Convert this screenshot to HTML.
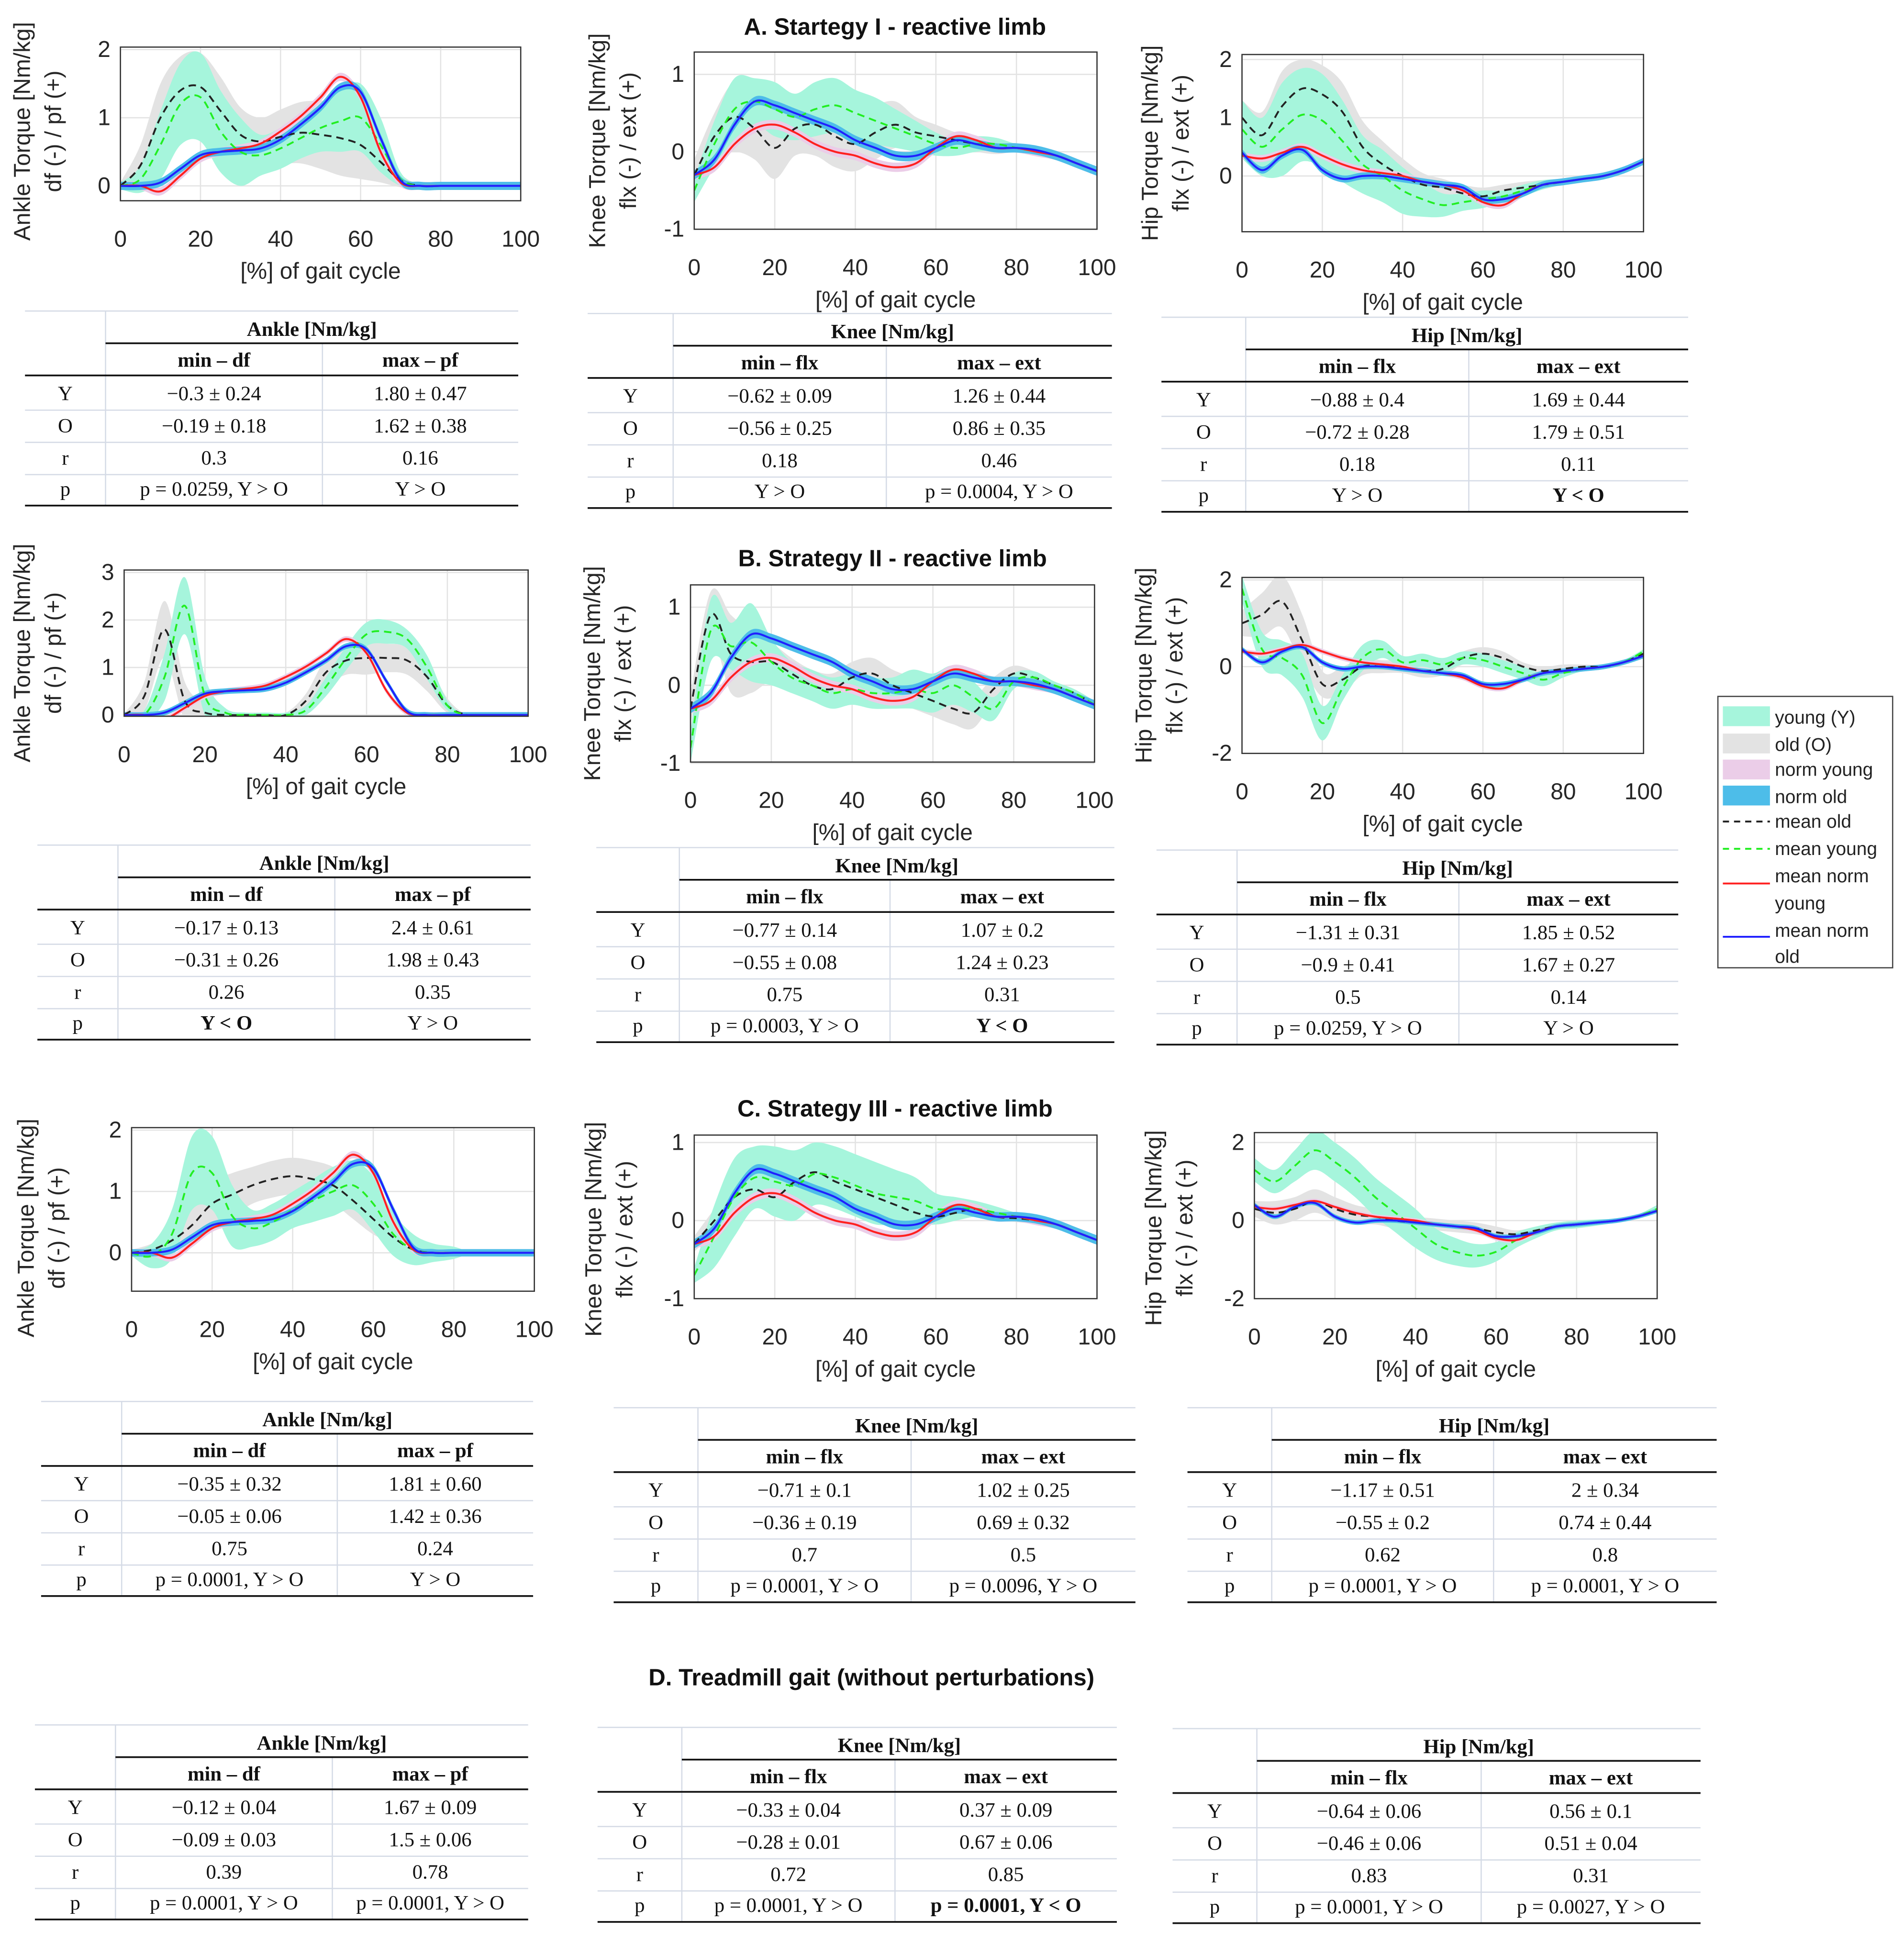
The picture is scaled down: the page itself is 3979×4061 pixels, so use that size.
<!DOCTYPE html>
<html><head><meta charset="utf-8"><style>
html,body{margin:0;padding:0;background:#fff;}
svg{display:block;}
.ax{font-family:"Liberation Sans",sans-serif;font-size:18.5px;fill:#262626;}
.tb{font-family:"Liberation Serif",serif;font-size:16.5px;fill:#111;}
.tt{font-family:"Liberation Sans",sans-serif;font-size:19px;font-weight:bold;fill:#111;}
</style></head><body>
<svg id="fig" xmlns="http://www.w3.org/2000/svg" width="3979" height="4061" viewBox="0 0 1536 1568">
<rect x="0" y="0" width="1536" height="1568" fill="#fff"/>
<text class="tt" x="722" y="28" text-anchor="middle">A. Startegy I - reactive limb</text>
<text class="tt" x="720" y="457" text-anchor="middle">B. Strategy II - reactive limb</text>
<text class="tt" x="722" y="901" text-anchor="middle">C. Strategy III - reactive limb</text>
<text class="tt" x="703" y="1360" text-anchor="middle">D. Treadmill gait (without perturbations)</text>
<g id="plots"></g>
<g id="tables"></g>
<g font-family="Liberation Sans, sans-serif" font-size="15" fill="#222">
<rect x="1386" y="562" width="141" height="219" fill="#fff" stroke="#444" stroke-width="1"/>
<rect x="1390" y="570" width="38" height="16" fill="#a6f5dc"/><text x="1432" y="584">young (Y)</text>
<rect x="1390" y="592" width="38" height="16" fill="#e3e3e3"/><text x="1432" y="606">old (O)</text>
<rect x="1390" y="613" width="38" height="16" fill="#ebcde8"/><text x="1432" y="626">norm young</text>
<rect x="1390" y="634" width="38" height="16" fill="#4dbde9"/><text x="1432" y="648">norm old</text>
<line x1="1390" y1="663" x2="1428" y2="663" stroke="#222" stroke-width="1.5" stroke-dasharray="5,4"/><text x="1432" y="668">mean old</text>
<line x1="1390" y1="685" x2="1428" y2="685" stroke="#22ee22" stroke-width="1.5" stroke-dasharray="5,4"/><text x="1432" y="690">mean young</text>
<line x1="1390" y1="713" x2="1428" y2="713" stroke="#ff2020" stroke-width="1.5"/><text x="1432" y="712">mean norm</text><text x="1432" y="734">young</text>
<line x1="1390" y1="756" x2="1428" y2="756" stroke="#2020ff" stroke-width="1.5"/><text x="1432" y="756">mean norm</text><text x="1432" y="777">old</text>
</g>
</svg>
<script>
const NS="http://www.w3.org/2000/svg";
const xCats=[0,5,10,15,20,25,30,35,40,45,50,55,60,65,70,75,80,85,90,95,100];
const xTicks=[0,20,40,60,80,100];
// norm curves (same across strategies)
const ankleNormYoung=[0,0,-0.08,0.15,0.4,0.5,0.55,0.62,0.8,1.02,1.3,1.6,1.3,0.5,0.05,0,0,0,0,0,0];
const ankleNormOld=[0,0,0.05,0.25,0.45,0.5,0.52,0.55,0.68,0.9,1.15,1.45,1.38,0.7,0.08,0,0,0,0,0,0];
const kneeNormYoung=[-0.3,-0.2,0.1,0.3,0.35,0.25,0.1,0,-0.05,-0.15,-0.2,-0.15,0.05,0.2,0.15,0.05,0.05,0,-0.05,-0.15,-0.25];
const kneeNormOld=[-0.3,-0.1,0.35,0.65,0.6,0.5,0.4,0.3,0.15,0.05,-0.05,-0.05,0.05,0.15,0.1,0.05,0.05,0.02,-0.05,-0.15,-0.25];
const hipNormYoung=[0.35,0.3,0.4,0.5,0.35,0.2,0.1,0.05,0,-0.1,-0.15,-0.25,-0.45,-0.5,-0.3,-0.15,-0.1,-0.05,0,0.1,0.25];
const hipNormOld=[0.4,0.1,0.35,0.45,0.1,-0.05,0,0,-0.05,-0.1,-0.15,-0.2,-0.4,-0.4,-0.3,-0.15,-0.1,-0.05,0,0.1,0.25];
// Ankle
const ankleA_old=[0,0.3,1.0,1.4,1.45,1.1,0.75,0.65,0.72,0.78,0.75,0.7,0.6,0.35,0.08,0,0,0,0,0,0];
const ankleA_young=[0,0.1,0.6,1.2,1.3,0.8,0.5,0.45,0.55,0.7,0.85,0.95,1.0,0.6,0.1,0,0,0,0,0,0];
const ankleA_youngSd=[0.05,0.2,0.5,0.6,0.65,0.6,0.5,0.3,0.3,0.3,0.35,0.45,0.5,0.4,0.1,0.02,0,0,0,0,0];
const ankleA_oldSd=[0.05,0.3,0.5,0.5,0.5,0.5,0.4,0.35,0.4,0.45,0.5,0.55,0.5,0.3,0.1,0.02,0,0,0,0,0];
const ankleB_old=[0,0.4,1.8,0.3,0.05,0,0,0,0,0.3,0.9,1.15,1.2,1.2,1.15,0.8,0.2,0,0,0,0];
const ankleB_young=[0,0,0.8,2.3,0.4,0.05,0,0,0,0.1,0.6,1.2,1.7,1.75,1.6,1.0,0.2,0,0,0,0];
const ankleB_youngSd=[0.02,0.1,0.5,0.6,0.4,0.1,0.05,0.05,0.05,0.1,0.2,0.25,0.25,0.25,0.2,0.25,0.1,0,0,0,0];
const ankleB_oldSd=[0.02,0.3,0.6,0.4,0.2,0.05,0.05,0.05,0.05,0.15,0.3,0.3,0.35,0.3,0.3,0.3,0.15,0,0,0,0];
const ankleC_old=[0,0.05,0.2,0.45,0.8,0.95,1.1,1.2,1.25,1.2,1.1,0.85,0.55,0.25,0.05,0,0,0,0,0,0];
const ankleC_young=[0,-0.05,0.3,1.3,1.3,0.6,0.4,0.5,0.7,0.85,1.0,1.1,0.8,0.3,0.05,0,0,0,0,0,0];
const ankleC_youngSd=[0.05,0.2,0.4,0.6,0.6,0.5,0.3,0.3,0.3,0.35,0.4,0.4,0.45,0.35,0.25,0.15,0.1,0,0,0,0];
const ankleC_oldSd=[0.05,0.1,0.15,0.3,0.35,0.35,0.3,0.3,0.3,0.3,0.3,0.3,0.25,0.1,0.05,0,0,0,0,0,0];
// Knee
const kneeA_old=[-0.3,0.2,0.45,0.3,0.05,0.3,0.35,0.2,0.1,0.25,0.35,0.25,0.2,0.15,0.1,0.05,0.05,0,-0.05,-0.15,-0.25];
const kneeA_young=[-0.5,0.1,0.55,0.65,0.55,0.45,0.55,0.6,0.5,0.4,0.3,0.2,0.1,0.05,0.1,0.1,0.05,0,-0.05,-0.15,-0.25];
const kneeA_youngSd=[0.15,0.3,0.4,0.3,0.35,0.3,0.35,0.35,0.3,0.3,0.25,0.2,0.15,0.1,0.1,0.08,0.05,0.05,0.05,0.05,0.05];
const kneeA_oldSd=[0.2,0.3,0.45,0.4,0.4,0.35,0.4,0.4,0.35,0.35,0.3,0.2,0.15,0.1,0.1,0.08,0.05,0.05,0.05,0.05,0.05];
const kneeB_old=[-0.3,0.9,0.4,0.3,0.3,0.15,0,-0.05,0.1,0.15,0,-0.1,-0.2,-0.3,-0.35,-0.05,0.15,0.1,0,-0.1,-0.25];
const kneeB_young=[-0.8,0.7,0.5,0.55,0.3,0.1,0,-0.1,-0.05,-0.1,-0.1,-0.05,-0.1,0,-0.15,-0.3,0.05,0.1,0,-0.1,-0.25];
const kneeB_youngSd=[0.2,0.4,0.3,0.5,0.3,0.2,0.2,0.2,0.2,0.2,0.2,0.25,0.25,0.25,0.2,0.15,0.1,0.08,0.05,0.05,0.05];
const kneeB_oldSd=[0.2,0.3,0.5,0.4,0.25,0.2,0.2,0.2,0.2,0.2,0.2,0.2,0.2,0.2,0.2,0.15,0.1,0.08,0.05,0.05,0.05];
const kneeC_old=[-0.3,0,0.3,0.4,0.3,0.5,0.62,0.5,0.4,0.3,0.2,0.1,0.05,0.1,0.15,0.05,0.03,0,-0.05,-0.15,-0.25];
const kneeC_young=[-0.7,-0.2,0.3,0.55,0.5,0.45,0.6,0.55,0.45,0.35,0.3,0.25,0.15,0.15,0.15,0.1,0.05,0,-0.05,-0.15,-0.25];
const kneeC_youngSd=[0.1,0.4,0.5,0.4,0.45,0.45,0.4,0.4,0.4,0.4,0.35,0.3,0.2,0.15,0.1,0.08,0.05,0.05,0.05,0.05,0.05];
const kneeC_oldSd=[0.1,0.15,0.2,0.2,0.2,0.2,0.2,0.2,0.15,0.15,0.15,0.1,0.1,0.1,0.08,0.05,0.05,0.05,0.05,0.05,0.05];
// Hip
const hipA_old=[1.0,0.7,1.2,1.5,1.4,1.1,0.5,0.2,0,-0.15,-0.2,-0.3,-0.35,-0.25,-0.2,-0.15,-0.1,-0.05,0,0.1,0.25];
const hipA_young=[0.8,0.5,0.8,1.05,0.95,0.6,0.2,0,-0.25,-0.4,-0.5,-0.45,-0.4,-0.35,-0.25,-0.15,-0.1,-0.05,0,0.1,0.25];
const hipA_youngSd=[0.5,0.5,0.8,0.8,0.8,0.7,0.5,0.45,0.4,0.3,0.2,0.15,0.15,0.1,0.1,0.08,0.05,0.05,0.05,0.05,0.05];
const hipA_oldSd=[0.3,0.4,0.6,0.5,0.5,0.5,0.45,0.4,0.3,0.2,0.15,0.15,0.15,0.1,0.1,0.08,0.05,0.05,0.05,0.05,0.05];
const hipB_old=[1.0,1.2,1.5,0.6,-0.4,-0.3,0,0,0,-0.1,-0.05,0.2,0.3,0.2,0,-0.1,-0.05,0,0,0.1,0.3];
const hipB_young=[1.8,0.4,0.2,-0.2,-1.3,-0.5,0.2,0.4,0.1,0.15,0.05,0.2,0.15,0,-0.15,-0.3,-0.15,-0.05,0,0.1,0.35];
const hipB_youngSd=[0.3,0.4,0.4,0.5,0.4,0.3,0.3,0.2,0.15,0.15,0.15,0.15,0.15,0.15,0.15,0.15,0.1,0.05,0.05,0.05,0.05];
const hipB_oldSd=[0.3,0.5,0.6,0.6,0.3,0.3,0.2,0.15,0.15,0.15,0.15,0.15,0.15,0.15,0.1,0.1,0.1,0.05,0.05,0.05,0.05];
const hipC_old=[0.3,0.2,0.3,0.5,0.3,0.15,0.1,0,-0.05,-0.1,-0.15,-0.2,-0.3,-0.35,-0.25,-0.15,-0.1,-0.05,0,0.1,0.25];
const hipC_young=[1.3,1.0,1.4,1.8,1.5,1.1,0.6,0.2,-0.2,-0.6,-0.8,-0.9,-0.8,-0.5,-0.3,-0.15,-0.1,-0.05,0,0.1,0.3];
const hipC_youngSd=[0.3,0.3,0.4,0.5,0.5,0.5,0.5,0.5,0.5,0.4,0.35,0.3,0.25,0.2,0.15,0.1,0.1,0.08,0.05,0.05,0.1];
const hipC_oldSd=[0.2,0.3,0.3,0.3,0.3,0.25,0.2,0.2,0.15,0.15,0.15,0.15,0.15,0.1,0.1,0.08,0.05,0.05,0.05,0.05,0.05];
const normSd=[0.06,0.06,0.06,0.06,0.06,0.06,0.06,0.06,0.06,0.06,0.06,0.06,0.06,0.06,0.06,0.06,0.06,0.06,0.06,0.06,0.06];
const ankleYTicksA=[0,1,2], ankleYTicksB=[0,1,2,3], kneeYTicks=[-1,0,1], hipYTicksA=[0,1,2], hipYTicks=[-2,0,2];

function el(tag,attrs,parent){const e=document.createElementNS(NS,tag);for(const k in attrs)e.setAttribute(k,attrs[k]);(parent||document.getElementById('plots')).appendChild(e);return e;}
function curve(pts){let d='M'+pts[0][0].toFixed(2)+','+pts[0][1].toFixed(2);for(let i=0;i<pts.length-1;i++){const p0=pts[Math.max(0,i-1)],p1=pts[i],p2=pts[i+1],p3=pts[Math.min(pts.length-1,i+2)];const c1x=p1[0]+(p2[0]-p0[0])/6,c1y=p1[1]+(p2[1]-p0[1])/6,c2x=p2[0]-(p3[0]-p1[0])/6,c2y=p2[1]-(p3[1]-p1[1])/6;d+=' C'+c1x.toFixed(2)+','+c1y.toFixed(2)+' '+c2x.toFixed(2)+','+c2y.toFixed(2)+' '+p2[0].toFixed(2)+','+p2[1].toFixed(2);}return d;}
let cid=0;
function plot(cfg){
  const g=el('g',{});
  
  
  const [x0,x1,yt,yb]=cfg.box;
  const [vt,pt,vb,pb]=cfg.ycal;
  const sx=v=>x0+(v/100)*(x1-x0);
  const sy=v=>pt+(v-vt)*(pb-pt)/(vb-vt);
  const id='clip'+(cid++);
  const cp=el('clipPath',{id:id},g);el('rect',{x:x0,y:yt,width:x1-x0,height:yb-yt},cp);
  el('rect',{x:x0,y:yt,width:x1-x0,height:yb-yt,fill:'#fff'},g);
  const grid=el('g',{stroke:'#e3e3e3','stroke-width':1},g);
  
  
  xTicks.forEach(t=>el('line',{x1:sx(t),x2:sx(t),y1:yt,y2:yb},grid));
  cfg.yticks.forEach(t=>el('line',{x1:x0,x2:x1,y1:sy(t),y2:sy(t)},grid));
  const data=el('g',{'clip-path':'url(#'+id+')'},g);
  function band(mean,sd,fill,nm){const up=mean.map((m,i)=>[sx(xCats[i]),sy(m+sd[i])]);const lo=mean.map((m,i)=>[sx(xCats[i]),sy(m-sd[i])]).reverse();const d=curve(up)+' L'+curve(lo).slice(1)+' Z';const p=el('path',{d:d,fill:fill,stroke:'none'},data);}
  function line(mean,col,dash,nm,w){const p=el('path',{d:curve(mean.map((m,i)=>[sx(xCats[i]),sy(m)])),fill:'none',stroke:col,'stroke-width':w||1.6},data);if(dash)p.setAttribute('stroke-dasharray',dash);}
  band(cfg.old,cfg.oldSd,'#e3e3e3','old-band');
  band(cfg.young,cfg.youngSd,'#a6f5dc','young-band');
  band(cfg.ny,normSd,'#ebcde8','norm-young-band');
  band(cfg.no,normSd,'#4dbde9','norm-old-band');
  line(cfg.old,'#222','6,4','mean-old-line',1.5);
  line(cfg.young,'#22ee22','6,4','mean-young-line',1.5);
  line(cfg.ny,'#ff2020',null,'mean-norm-young-line');
  line(cfg.no,'#2020ff',null,'mean-norm-old-line');
  el('rect',{x:x0,y:yt,width:x1-x0,height:yb-yt,fill:'none',stroke:'#333','stroke-width':1},g);
  xTicks.forEach(t=>{const tx=el('text',{x:sx(t),y:yb+37,'text-anchor':'middle',class:'ax'},g);tx.textContent=t;});
  cfg.yticks.forEach(t=>{const tx=el('text',{x:x0-8,y:sy(t)+6,'text-anchor':'end',class:'ax'},g);tx.textContent=t;});
  const xl=el('text',{x:(x0+x1)/2,y:yb+63,'text-anchor':'middle',class:'ax'},g);xl.textContent='[%] of gait cycle';
  
  const cy=(yt+yb)/2+cfg.ylOff;
  const l1=el('text',{x:0,y:0,'text-anchor':'middle',class:'ax',transform:'translate('+(x0-cfg.yl1)+','+cy+') rotate(-90)'},g);l1.textContent=cfg.lab1;
  
  const l2=el('text',{x:0,y:0,'text-anchor':'middle',class:'ax',transform:'translate('+(x0-cfg.yl1+25)+','+cy+') rotate(-90)'},g);l2.textContent=cfg.lab2;
  
}
const AL='Ankle Torque [Nm/kg]',AL2='df (-) / pf (+)',KL='Knee Torque [Nm/kg]',KL2='flx (-) / ext (+)',HL='Hip Torque [Nm/kg]',HL2='flx (-) / ext (+)';
plot({name:'ankle-chart-a',box:[97,420,38,162],ycal:[2,40,0,150],yticks:ankleYTicksA,old:ankleA_old,young:ankleA_young,oldSd:ankleA_oldSd,youngSd:ankleA_youngSd,ny:ankleNormYoung,no:ankleNormOld,lab1:AL,lab2:AL2,yl1:73,ylOff:6});
plot({name:'knee-chart-a',box:[560,885,42,185],ycal:[1,60,-1,185],yticks:kneeYTicks,old:kneeA_old,young:kneeA_young,oldSd:kneeA_oldSd,youngSd:kneeA_youngSd,ny:kneeNormYoung,no:kneeNormOld,lab1:KL,lab2:KL2,yl1:72,ylOff:0});
plot({name:'hip-chart-a',box:[1002,1326,44,187],ycal:[2,48,0,142],yticks:hipYTicksA,old:hipA_old,young:hipA_young,oldSd:hipA_oldSd,youngSd:hipA_youngSd,ny:hipNormYoung,no:hipNormOld,lab1:HL,lab2:HL2,yl1:68,ylOff:0});
plot({name:'ankle-chart-b',box:[100,426,460,578],ycal:[3,462,0,577],yticks:ankleYTicksB,old:ankleB_old,young:ankleB_young,oldSd:ankleB_oldSd,youngSd:ankleB_youngSd,ny:ankleNormYoung,no:ankleNormOld,lab1:AL,lab2:AL2,yl1:76,ylOff:8});
plot({name:'knee-chart-b',box:[557,883,472,615],ycal:[1,490,-1,616],yticks:kneeYTicks,old:kneeB_old,young:kneeB_young,oldSd:kneeB_oldSd,youngSd:kneeB_youngSd,ny:kneeNormYoung,no:kneeNormOld,lab1:KL,lab2:KL2,yl1:73,ylOff:0});
plot({name:'hip-chart-b',box:[1002,1326,466,608],ycal:[2,468,-2,608],yticks:hipYTicks,old:hipB_old,young:hipB_young,oldSd:hipB_oldSd,youngSd:hipB_youngSd,ny:hipNormYoung,no:hipNormOld,lab1:HL,lab2:HL2,yl1:73,ylOff:0});
plot({name:'ankle-chart-c',box:[106,431,910,1042],ycal:[2,912,0,1011],yticks:ankleYTicksA,old:ankleC_old,young:ankleC_young,oldSd:ankleC_oldSd,youngSd:ankleC_youngSd,ny:ankleNormYoung,no:ankleNormOld,lab1:AL,lab2:AL2,yl1:79,ylOff:15});
plot({name:'knee-chart-c',box:[560,885,916,1048],ycal:[1,922,-1,1048],yticks:kneeYTicks,old:kneeC_old,young:kneeC_young,oldSd:kneeC_oldSd,youngSd:kneeC_youngSd,ny:kneeNormYoung,no:kneeNormOld,lab1:KL,lab2:KL2,yl1:75,ylOff:10});
plot({name:'hip-chart-c',box:[1012,1337,914,1048],ycal:[2,922,-2,1048],yticks:hipYTicks,old:hipC_old,young:hipC_young,oldSd:hipC_oldSd,youngSd:hipC_youngSd,ny:hipNormYoung,no:hipNormOld,lab1:HL,lab2:HL2,yl1:75,ylOff:10});

function tbl(name,x0,x1,c1,c2,hy,title,sub1,sub2,rows){
  const P=document.getElementById('tables');
  const g=el('g',{},P);
  
  
  const bot=hy+143;
  el('line',{x1:x0,x2:x1,y1:hy-14,y2:hy-14,stroke:'#d5dbe6','stroke-width':1},g);
  el('line',{x1:c1,x2:c1,y1:hy-14,y2:bot,stroke:'#d5dbe6','stroke-width':1},g);
  el('line',{x1:c2,x2:c2,y1:hy+12,y2:bot,stroke:'#d5dbe6','stroke-width':1},g);
  el('line',{x1:c1,x2:x1,y1:hy+12,y2:hy+12,stroke:'#111','stroke-width':1.4},g);
  el('line',{x1:x0,x2:x1,y1:hy+38,y2:hy+38,stroke:'#111','stroke-width':1.4},g);
  el('line',{x1:x0,x2:x1,y1:bot,y2:bot,stroke:'#111','stroke-width':1.4},g);
  const m0=(x0+c1)/2,m1=(c1+c2)/2,m2=(c2+x1)/2;
  let t=el('text',{x:(c1+x1)/2,y:hy+6,'text-anchor':'middle',class:'tb','font-weight':'bold'},g);t.textContent=title;
  t=el('text',{x:m1,y:hy+31,'text-anchor':'middle',class:'tb','font-weight':'bold'},g);t.textContent=sub1;
  t=el('text',{x:m2,y:hy+31,'text-anchor':'middle',class:'tb','font-weight':'bold'},g);t.textContent=sub2;
  const ry=[53,79,105,130];
  rows.forEach((r,i)=>{
    const y=hy+ry[i];
    if(i<3) el('line',{x1:x0,x2:x1,y1:y+13,y2:y+13,stroke:'#d5dbe6','stroke-width':1},g);
    [[m0,r[0]],[m1,r[1]],[m2,r[2]]].forEach(([x,s])=>{const b=s[0]==='*';const tx=el('text',{x:x,y:y+5,'text-anchor':'middle',class:'tb'},g);if(b)tx.setAttribute('font-weight','bold');tx.textContent=b?s.slice(1):s;});
  });
}
const ankleSub=['min – df','max – pf'], kneeSub=['min – flx','max – ext'];
const tA1=[['Y','−0.3 ± 0.24','1.80 ± 0.47'],['O','−0.19 ± 0.18','1.62 ± 0.38'],['r','0.3','0.16'],['p','p = 0.0259, Y > O','Y > O']];
const tA2=[['Y','−0.62 ± 0.09','1.26 ± 0.44'],['O','−0.56 ± 0.25','0.86 ± 0.35'],['r','0.18','0.46'],['p','Y > O','p = 0.0004, Y > O']];
const tA3=[['Y','−0.88 ± 0.4','1.69 ± 0.44'],['O','−0.72 ± 0.28','1.79 ± 0.51'],['r','0.18','0.11'],['p','Y > O','*Y < O']];
const tB1=[['Y','−0.17 ± 0.13','2.4 ± 0.61'],['O','−0.31 ± 0.26','1.98 ± 0.43'],['r','0.26','0.35'],['p','*Y < O','Y > O']];
const tB2=[['Y','−0.77 ± 0.14','1.07 ± 0.2'],['O','−0.55 ± 0.08','1.24 ± 0.23'],['r','0.75','0.31'],['p','p = 0.0003, Y > O','*Y < O']];
const tB3=[['Y','−1.31 ± 0.31','1.85 ± 0.52'],['O','−0.9 ± 0.41','1.67 ± 0.27'],['r','0.5','0.14'],['p','p = 0.0259, Y > O','Y > O']];
const tC1=[['Y','−0.35 ± 0.32','1.81 ± 0.60'],['O','−0.05 ± 0.06','1.42 ± 0.36'],['r','0.75','0.24'],['p','p = 0.0001, Y > O','Y > O']];
const tC2=[['Y','−0.71 ± 0.1','1.02 ± 0.25'],['O','−0.36 ± 0.19','0.69 ± 0.32'],['r','0.7','0.5'],['p','p = 0.0001, Y > O','p = 0.0096, Y > O']];
const tC3=[['Y','−1.17 ± 0.51','2 ± 0.34'],['O','−0.55 ± 0.2','0.74 ± 0.44'],['r','0.62','0.8'],['p','p = 0.0001, Y > O','p = 0.0001, Y > O']];
const tD1=[['Y','−0.12 ± 0.04','1.67 ± 0.09'],['O','−0.09 ± 0.03','1.5 ± 0.06'],['r','0.39','0.78'],['p','p = 0.0001, Y > O','p = 0.0001, Y > O']];
const tD2=[['Y','−0.33 ± 0.04','0.37 ± 0.09'],['O','−0.28 ± 0.01','0.67 ± 0.06'],['r','0.72','0.85'],['p','p = 0.0001, Y > O','*p = 0.0001, Y < O']];
const tD3=[['Y','−0.64 ± 0.06','0.56 ± 0.1'],['O','−0.46 ± 0.06','0.51 ± 0.04'],['r','0.83','0.31'],['p','p = 0.0001, Y > O','p = 0.0027, Y > O']];
tbl('ankle-table-a',20,418,85,260,265,'Ankle [Nm/kg]',ankleSub[0],ankleSub[1],tA1);
tbl('knee-table-a',474,897,543,715,267,'Knee [Nm/kg]',kneeSub[0],kneeSub[1],tA2);
tbl('hip-table-a',937,1362,1005,1185,270,'Hip [Nm/kg]',kneeSub[0],kneeSub[1],tA3);
tbl('ankle-table-b',30,428,95,270,696,'Ankle [Nm/kg]',ankleSub[0],ankleSub[1],tB1);
tbl('knee-table-b',481,899,548,718,698,'Knee [Nm/kg]',kneeSub[0],kneeSub[1],tB2);
tbl('hip-table-b',933,1354,998,1177,700,'Hip [Nm/kg]',kneeSub[0],kneeSub[1],tB3);
tbl('ankle-table-c',33,430,98,272,1145,'Ankle [Nm/kg]',ankleSub[0],ankleSub[1],tC1);
tbl('knee-table-c',495,916,563,735,1150,'Knee [Nm/kg]',kneeSub[0],kneeSub[1],tC2);
tbl('hip-table-c',958,1385,1026,1205,1150,'Hip [Nm/kg]',kneeSub[0],kneeSub[1],tC3);
tbl('ankle-table-d',28,426,93,268,1406,'Ankle [Nm/kg]',ankleSub[0],ankleSub[1],tD1);
tbl('knee-table-d',482,901,550,722,1408,'Knee [Nm/kg]',kneeSub[0],kneeSub[1],tD2);
tbl('hip-table-d',946,1372,1014,1195,1409,'Hip [Nm/kg]',kneeSub[0],kneeSub[1],tD3);
</script>
</body></html>
